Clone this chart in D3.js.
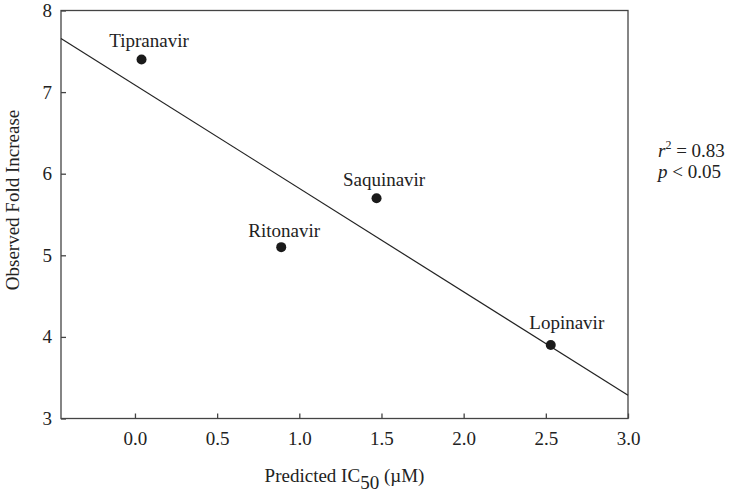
<html>
<head>
<script src="https://d3js.org/d3.v7.min.js"></script>
<style>
  body { margin: 0; background: #fff; }
  text { font-family: "Liberation Serif", "Times New Roman", serif; fill: #222; }
</style>
</head>
<body>
<svg width="730" height="493"></svg>
<script>
// drugs and their values
const drugs = ["Tipranavir", "Ritonavir", "Saquinavir", "Lopinavir"];
const predictedIC50 = [0.04, 0.89, 1.47, 2.53];
const foldIncrease = [7.40, 5.10, 5.70, 3.90];
const xTicks = [0.0, 0.5, 1.0, 1.5, 2.0, 2.5, 3.0];
const yTicks = [3, 4, 5, 6, 7, 8];
const stats = ["0.83", "0.05"];

// label nudges in px (dx, dy from the dot)
const labelNudge = [[7.5, -12.5], [3, -10.5], [7.5, -12.5], [16, -16]];

const svg = d3.select("svg");
const pLeft = 61, pRight = 628, pTop = 10.5, pBottom = 418.5;

const x = d3.scaleLinear().domain([-0.45, 3.0]).range([pLeft, pRight]);
const y = d3.scaleLinear().domain([3, 8]).range([pBottom, pTop]);

// least squares fit
const mx = d3.mean(predictedIC50), my = d3.mean(foldIncrease);
let sxy = 0, sxx = 0;
predictedIC50.forEach((v, i) => { sxy += (v - mx) * (foldIncrease[i] - my); sxx += (v - mx) * (v - mx); });
const slope = sxy / sxx, intercept = my - slope * mx;

// frame
svg.append("rect").attr("x", pLeft).attr("y", pTop)
  .attr("width", pRight - pLeft).attr("height", pBottom - pTop)
  .attr("fill", "none").attr("stroke", "#444").attr("stroke-width", 1.3);

// axes
const xa = svg.append("g").attr("transform", `translate(0,${pBottom})`)
  .call(d3.axisBottom(x).tickValues(xTicks).tickFormat(d3.format(".1f")).tickSizeInner(-5).tickSizeOuter(0).tickPadding(13));
const ya = svg.append("g").attr("transform", `translate(${pLeft},0)`)
  .call(d3.axisLeft(y).tickValues(yTicks).tickFormat(d3.format("d")).tickSizeInner(-5).tickSizeOuter(0).tickPadding(9));
[xa, ya].forEach(a => {
  a.select(".domain").remove();
  a.selectAll("line").attr("stroke", "#444").attr("stroke-width", 1.3);
  a.selectAll("text").style("font-family", "Liberation Serif").style("font-size", "19px").attr("fill", "#222");
});

// regression line
const xd = x.domain();
svg.append("line")
  .attr("x1", x(xd[0])).attr("y1", y(intercept + slope * xd[0]))
  .attr("x2", x(xd[1])).attr("y2", y(intercept + slope * xd[1]))
  .attr("stroke", "#222").attr("stroke-width", 1.2);

// points
svg.selectAll("circle.pt").data(drugs).join("circle").attr("class", "pt")
  .attr("cx", (d, i) => x(predictedIC50[i]))
  .attr("cy", (d, i) => y(foldIncrease[i]))
  .attr("r", 5).attr("fill", "#1a1a1a");

svg.selectAll("text.lbl").data(drugs).join("text").attr("class", "lbl")
  .attr("x", (d, i) => x(predictedIC50[i]) + labelNudge[i][0])
  .attr("y", (d, i) => y(foldIncrease[i]) + labelNudge[i][1])
  .attr("text-anchor", "middle").style("font-size", "19px")
  .text(d => d);

// axis titles
const xt = svg.append("text").attr("x", (pLeft + pRight) / 2).attr("y", 482)
  .attr("text-anchor", "middle").style("font-size", "19px");
xt.append("tspan").text("Predicted IC");
xt.append("tspan").attr("dy", 7).text("50");
xt.append("tspan").attr("dy", -7).text(" (\u00B5M)");

svg.append("text").attr("transform", "translate(19,200) rotate(-90)")
  .attr("text-anchor", "middle").style("font-size", "19px")
  .text("Observed Fold Increase");

// stats
const t1 = svg.append("text").attr("x", 658).attr("y", 157).style("font-size", "19px");
t1.append("tspan").style("font-style", "italic").text("r");
t1.append("tspan").attr("dy", -8).style("font-size", "12px").text("2");
t1.append("tspan").attr("dy", 8).text(" = " + stats[0]);
const t2 = svg.append("text").attr("x", 658).attr("y", 178).style("font-size", "19px");
t2.append("tspan").style("font-style", "italic").text("p");
t2.append("tspan").text(" < " + stats[1]);
</script>
</body>
</html>
